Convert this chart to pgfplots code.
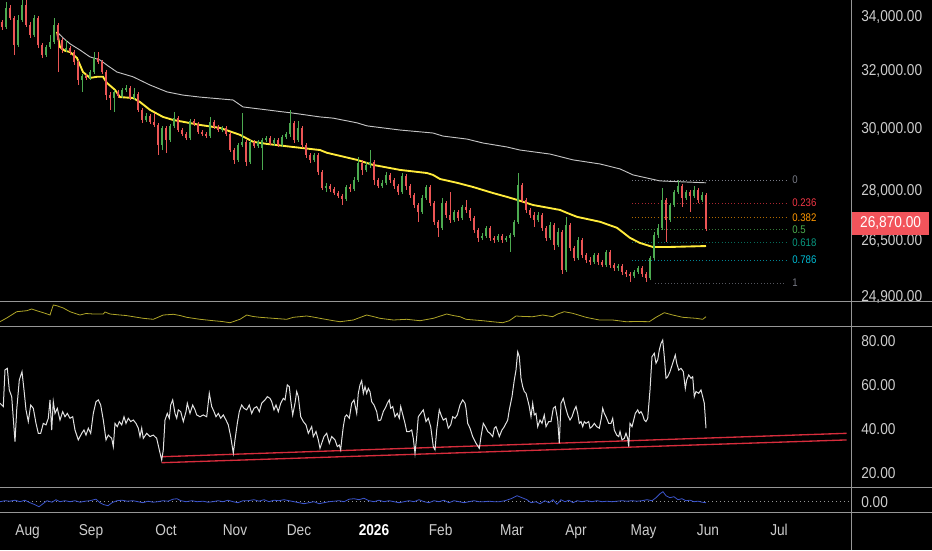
\documentclass[border=0pt]{standalone}
\usepackage{fontspec}
\setmainfont{Liberation Sans}[FakeStretch=0.87]
\usepackage{pgfplots}
\pgfplotsset{compat=1.18}
\usepackage{pgfplotstable}

\definecolor{sep}{RGB}{150,150,150}
\definecolor{txt}{RGB}{205,205,205}
\definecolor{cup}{RGB}{76,170,80}
\definecolor{cdn}{RGB}{235,85,85}
\definecolor{maY}{RGB}{255,235,59}
\definecolor{bandW}{RGB}{195,195,195}
\definecolor{oscY}{RGB}{175,165,40}
\definecolor{rsiW}{RGB}{225,225,225}
\definecolor{trend}{RGB}{215,45,60}
\definecolor{blueL}{RGB}{60,85,205}
\definecolor{tag}{RGB}{242,84,91}
\definecolor{fibG}{RGB}{120,123,134}
\definecolor{fibR}{RGB}{242,54,69}
\definecolor{fibO}{RGB}{255,152,0}
\definecolor{fibGr}{RGB}{76,175,80}
\definecolor{fibT}{RGB}{8,153,129}
\definecolor{fibC}{RGB}{0,188,212}

\newcommand\lbl{\fontsize{11.8}{12}\selectfont}
\newcommand\fib{\fontsize{8.3}{9}\selectfont}

% x o h l c  (rising candles)
\pgfplotstableread{
x o h l c
6 33630 34570 33550 34340
18 32960 34080 32880 33890
22 33890 34650 33810 34460
34 33330 34080 33260 33960
46 32590 32960 32520 32880
50 32880 33330 32810 33070
54 33070 33960 33000 33700
66 32770 33140 32700 32850
82 31700 31910 31280 31840
90 31770 32050 31700 31980
94 31980 32700 31910 32480
114 31070 31350 30590 31280
122 31140 31420 31070 31350
126 31350 31520 31280 31420
134 31070 31420 31000 31210
146 30320 30550 30250 30450
162 29490 30120 29320 30050
170 29650 30180 29590 30120
174 30120 30590 30050 30380
190 29720 30350 29650 30280
210 29780 30420 29720 30250
222 29980 30120 29920 30050
238 29000 29550 28940 29490
242 29490 30550 29420 29590
250 28940 29650 28870 29590
258 29450 29650 29390 29590
262 29390 29720 28680 29650
266 29650 29780 29590 29720
274 29550 29720 29450 29650
282 29490 29820 29420 29750
286 29750 29920 29680 29850
290 29850 30660 29750 30220
298 29650 30280 29590 30050
314 29000 29230 28940 29160
326 28110 28270 27980 28170
346 27770 28200 27710 28140
354 28080 28450 28010 28360
358 28360 29100 28300 28900
366 28680 28940 28610 28840
370 28840 29320 28740 28940
382 28170 28360 28110 28270
386 28270 28610 28200 28520
402 27980 28580 27920 28490
422 27370 27890 27310 27800
426 27800 28200 27740 28140
442 26890 27800 26830 27640
454 27130 27430 27070 27370
462 27190 27580 27130 27520
482 26590 26740 26530 26650
486 26650 26950 26590 26890
498 26530 26710 26470 26650
506 26530 26650 26470 26590
510 26590 26740 26180 26680
514 26680 27130 26620 27070
518 27070 28580 27010 28200
538 27130 27370 27070 27280
550 26590 27070 26530 26980
558 26380 26890 26320 26770
566 25660 27220 25600 26980
578 26000 26620 25940 26530
594 25890 26150 25830 26090
606 25800 26240 25740 26180
618 25710 25830 25630 25770
634 25490 25660 25430 25600
638 25600 25770 25540 25710
650 25430 26060 25370 26000
654 26000 26770 25940 26680
658 26680 27010 26590 26890
662 26890 28110 26830 27740
670 27130 27640 27070 27580
674 27580 28050 27520 27980
678 27980 28360 27920 28170
686 27800 28050 27740 27980
694 27860 28170 27800 28050
702 27740 27980 27670 27890
}\upc

% x o h l c  (falling candles)
\pgfplotstableread{
x o h l c
2 33810 33890 33510 33630
10 34340 34460 33890 33960
14 33960 34040 32590 32960
26 34460 34650 33630 33700
30 33700 33810 33220 33330
38 33960 34040 32850 32960
42 32960 33030 32480 32590
58 33700 33780 31980 33140
62 33140 33220 32660 32770
70 32850 32920 32590 32700
74 32700 32770 32230 32340
78 32340 32410 31520 31700
86 31840 31910 31700 31770
98 32480 32700 32270 32340
102 32340 32410 31910 31980
106 31980 32050 31000 31170
110 31170 31280 30660 31070
118 31280 31350 31070 31140
130 31420 31490 31000 31070
138 31210 31280 30590 30660
142 30660 30720 30220 30320
150 30450 30520 30180 30250
154 30250 30550 30080 30150
158 30150 30220 29160 29490
166 30050 30120 29230 29650
178 30380 30450 29920 29980
182 29980 30050 29780 29850
186 29850 29920 29650 29720
194 30280 30350 30120 30180
198 30180 30250 29850 29920
202 29920 29980 29780 29850
206 29850 29920 29720 29780
214 30250 30320 30020 30080
218 30080 30150 29920 29980
226 30050 30120 29780 29850
230 29850 29920 29260 29320
234 29320 29390 28870 29000
246 29590 29650 28800 28940
254 29590 29650 29390 29450
270 29720 29780 29490 29550
278 29650 29720 29420 29490
294 30220 30280 29550 29650
302 30050 30120 29390 29490
306 29490 29550 29060 29160
310 29160 29230 28900 29000
318 29160 29230 28520 28610
322 28610 28680 28050 28110
330 28170 28230 27980 28080
334 28080 28140 27890 27950
338 27950 28010 27800 27860
342 27860 27920 27580 27770
350 28140 28230 27980 28080
362 28900 29000 28520 28680
374 28940 29000 28200 28360
378 28360 28420 28110 28170
390 28520 28580 28270 28360
394 28360 28420 28080 28170
398 28170 28230 27890 27980
406 28490 28550 28050 28170
410 28170 28230 27800 27890
414 27890 27950 27490 27580
418 27580 27640 27070 27370
430 28140 28200 27550 27640
434 27640 27710 26980 27070
438 27070 27130 26620 26890
446 27640 27710 27190 27280
450 27280 27980 27040 27130
458 27370 27430 27100 27190
466 27520 27740 27340 27430
470 27430 27490 27100 27190
474 27190 27250 26740 26830
478 26830 26890 26470 26590
490 26890 26950 26500 26590
494 26590 26650 26440 26530
502 26650 26710 26440 26530
522 28200 28270 27640 27740
526 27740 27800 27340 27430
530 27430 27490 27190 27280
534 27280 27370 26920 27130
542 27280 27340 26800 26890
546 26890 26950 26500 26590
554 26980 27040 26240 26380
562 26770 26830 25540 25660
570 26980 27040 26210 26290
574 26290 26350 25920 26000
582 26530 26590 26000 26090
586 26090 26150 25860 25940
590 25940 26030 25800 25890
598 26090 26150 25800 25890
602 25890 25940 25740 25800
610 26180 26240 25710 25800
614 25800 25860 25630 25710
622 25770 25830 25520 25600
626 25600 25660 25460 25540
630 25540 25600 25320 25490
642 25710 25770 25460 25540
646 25540 25600 25320 25430
666 27740 27800 26470 27130
682 28170 28230 27520 27800
690 27980 28050 27370 27860
698 28050 28110 27640 27740
706 27890 27950 26800 26860
}\dnc

\pgfplotsset{
  panel/.style={
    anchor=north west, scale only axis, width=638.25pt,
    xmin=0, xmax=851,
    axis line style={draw=none}, major tick length=0pt, tick style={draw=none},
    xtick=\empty, yticklabel pos=right,
    ticklabel style={font=\lbl, text=txt},
    yticklabel style={anchor=west, inner sep=0pt, xshift=7.5pt},
    clip=false,
  },
  wick/.style={forget plot, draw=none, mark=none,
    error bars/.cd, y dir=plus, y explicit, error mark=none,
    error bar style={draw=#1, line width=0.7pt, solid}},
  body/.style={forget plot, draw=none, mark=none,
    error bars/.cd, y dir=plus, y explicit, error mark=none,
    error bar style={draw=#1, line width=1.95pt, solid}},
}

\begin{document}
\begin{tikzpicture}
\path[use as bounding box] (0pt,0pt) rectangle (699pt,-412.5pt);
\fill[black] (0pt,0pt) rectangle (699pt,-412.5pt);

% ---------------- main price panel
\begin{axis}[panel, at={(0pt,0pt)}, height=225.75pt,
  ymode=log, ymin=24790, ymax=34650,
  ytick={24900,26500,28000,30000,32000,34000},
  yticklabels={{24,900.00},{26,500.00},{28,000.00},{30,000.00},{32,000.00},{34,000.00}}]
% fib levels
\addplot[fibG, line width=0.5pt, dash pattern=on 0.8pt off 1.6pt] coordinates {(632,28360) (786,28360)};
\addplot[fibR!70!black, line width=0.5pt, dash pattern=on 0.8pt off 1.6pt] coordinates {(632,27640) (786,27640)};
\addplot[fibO!70!black, line width=0.5pt, dash pattern=on 0.8pt off 1.6pt] coordinates {(632,27190) (786,27190)};
\addplot[fibGr!70!black, line width=0.5pt, dash pattern=on 0.8pt off 1.6pt] coordinates {(632,26830) (786,26830)};
\addplot[fibT!70!black, line width=0.5pt, dash pattern=on 0.8pt off 1.6pt] coordinates {(632,26460) (786,26460)};
\addplot[fibC!70!black, line width=0.5pt, dash pattern=on 0.8pt off 1.6pt] coordinates {(632,25940) (786,25940)};
\addplot[fibG!70!black, line width=0.5pt, dash pattern=on 0.8pt off 1.6pt] coordinates {(655,25290) (786,25290)};
% upper band (white)
\addplot[bandW, line width=0.7pt] coordinates {
(58,33400) (63,33220) (70,33000) (80,32770) (90,32520) (100,32410) (108,32200)
(117,31980) (133,31810) (150,31520) (167,31280) (183,31170) (200,31100) (233,31000)
(243,30760) (267,30660) (293,30550) (320,30420) (333,30380) (357,30220) (367,30120)
(400,29980) (433,29880) (443,29780) (467,29680) (483,29550) (507,29420) (520,29320)
(550,29190) (573,29000) (600,28870) (620,28710) (633,28520) (660,28330) (706,28270)};
% moving average (yellow)
\addplot[maY, line width=1.4pt] coordinates {
(57,33440) (60,32880) (65,32740) (70,32700) (77,32480) (83,31980) (90,31770)
(97,31810) (103,31810) (107,31590) (115,31350) (120,31100) (133,31070) (140,30930)
(150,30660) (163,30420) (173,30320) (200,30150) (220,30050) (240,29820) (253,29590)
(267,29520) (293,29420) (320,29320) (327,29230) (357,29000) (373,28840) (400,28680)
(427,28580) (433,28520) (440,28390) (457,28270) (473,28140) (493,27950) (507,27830)
(517,27740) (533,27580) (560,27430) (567,27340) (577,27220) (600,27070) (617,26890)
(630,26590) (640,26440) (653,26320) (667,26320) (706,26350)};
% candles
\addplot[wick=cup] table[x=x, y=l, y error expr=\thisrow{h}-\thisrow{l}] {\upc};
\addplot[wick=cdn] table[x=x, y=l, y error expr=\thisrow{h}-\thisrow{l}] {\dnc};
\addplot[body=cup] table[x=x, y=o, y error expr=\thisrow{c}-\thisrow{o}] {\upc};
\addplot[body=cdn] table[x=x, y=c, y error expr=\thisrow{o}-\thisrow{c}] {\dnc};
% fib labels
\node[anchor=west, inner sep=0pt, font=\fib, text=fibG] at (axis cs:792,28360) {0};
\node[anchor=west, inner sep=0pt, font=\fib, text=fibR] at (axis cs:792,27640) {0.236};
\node[anchor=west, inner sep=0pt, font=\fib, text=fibO] at (axis cs:792,27190) {0.382};
\node[anchor=west, inner sep=0pt, font=\fib, text=fibGr] at (axis cs:792,26830) {0.5};
\node[anchor=west, inner sep=0pt, font=\fib, text=fibT] at (axis cs:792,26460) {0.618};
\node[anchor=west, inner sep=0pt, font=\fib, text=fibC] at (axis cs:792,25940) {0.786};
\node[anchor=west, inner sep=0pt, font=\fib, text=fibG] at (axis cs:792,25290) {1};
\end{axis}

% ---------------- small yellow oscillator panel
\begin{axis}[panel, at={(0pt,-226.5pt)}, height=18pt, ymin=0, ymax=24, ytick=\empty]
\addplot[oscY, line width=0.6pt] coordinates {
(0,4.3) (6.7,8) (16.7,14.3) (26.7,15.3) (31.7,17) (36.7,15.3) (43.3,13.3) (50,11)
(53.3,21) (56.7,20.3) (63.3,18) (70,14.3) (80,11) (86,12.5) (93.3,12) (103.3,12) (105,14)
(110,12) (120,11) (126,10.5) (133.3,9.3) (143.3,7.7) (153.3,6.7) (163.3,11) (173.3,11.7)
(180,10.5) (186.7,8.7) (200,6.7) (213.3,5.3) (222,4.5) (230,3.3) (240,6.7) (246.7,11)
(253,9.5) (260,8.7) (273.3,7.7) (286.7,6.7) (293.3,8.7) (306.7,10) (313,9) (320,7.7)
(333.3,5.3) (340,4.3) (353.3,6) (366.7,11) (373,9.5) (380,7.7) (393.3,6) (406.7,6.7)
(420,5.3) (433.3,7.7) (446.7,12) (453,10.5) (460,9.3) (466,6.7) (482.7,5.3) (495,4)
(502.7,3.3) (509.3,5.3) (516,10) (524,9.5) (532.7,9.3) (542.7,11) (552.7,9.3) (557.7,12)
(564.3,14.3) (572.7,12.7) (580,10.5) (586,8.7) (599.3,6) (612.7,6) (626,4.3) (638,4.5)
(649.3,4.3) (656,8.7) (664.3,13.3) (672.7,11) (682.7,8.7) (696,7.7) (702.7,6.7) (706,9.3)};
\end{axis}

% ---------------- RSI panel
\begin{axis}[panel, at={(0pt,-245.25pt)}, height=120pt, ymin=13.8, ymax=86.2,
  ytick={20,40,60,80}, yticklabels={20.00,40.00,60.00,80.00}]
\addplot[trend, line width=1pt] coordinates {(161.7,27.5) (846.7,38.1)};
\addplot[trend, line width=1pt] coordinates {(161.7,24.8) (846.7,35.1)};
\addplot[rsiW, line width=0.75pt] coordinates {
(0,51.7) (3.3,50.2) (5,66.8) (7.3,67.5) (9.3,57.7) (11.7,54.7) (15,34.3) (16.7,48.7)
(19.3,62.2) (22,66.0) (24,57.7) (26,48.7) (28.3,43.4) (30.7,50.9) (33.3,49.4) (36,42.6)
(38.3,38.1) (40.7,38.1) (43.3,42.6) (46,41.9) (48.3,44.9) (50,53.2) (51.7,39.6) (53.3,52.4)
(55,47.1) (57.3,49.4) (60,44.1) (62.7,47.9) (65,45.6) (67.3,47.1) (70,44.9) (72.7,45.6)
(75,39.6) (78.3,35.1) (81.7,38.1) (84,39.6) (86,37.3) (88.3,40.4) (90.7,38.1) (93.3,47.1)
(96,52.4) (98.3,53.2) (100.7,50.9) (103.3,44.1) (106,35.1) (108.3,37.3) (111.7,35.8)
(113.3,32.1) (115,42.6) (117.3,41.1) (119.3,43.4) (121.7,41.9) (124,45.6) (126,42.6)
(128.3,44.9) (130.7,43.4) (133.3,44.1) (136,42.6) (138.3,40.4) (140,36.6) (141.7,40.4)
(143.3,35.8) (146.7,38.1) (150,36.6) (153.3,37.3) (156.7,35.8) (159.3,30.6) (161.7,26.0)
(163.3,30.6) (165,44.1) (167.3,47.1) (169.3,44.9) (170.7,50.9) (172.7,53.2) (175,47.1)
(176.7,44.9) (178.3,48.7) (180.7,47.9) (183.3,43.4) (186,47.9) (187.3,51.7) (190,47.1)
(192.7,50.9) (195,48.7) (196.7,46.4) (200,45.6) (203.3,46.4) (206.7,45.6) (209.3,56.2)
(211.7,50.2) (214,47.9) (216,45.6) (218.3,47.1) (220.7,44.9) (223.3,46.4) (226,44.1)
(228.3,41.9) (230.7,36.6) (233.3,29.1) (235,35.1) (237.3,42.6) (239.3,47.9) (241.7,50.9)
(244,49.4) (246.7,48.7) (249.3,50.9) (251.7,47.1) (254,49.4) (256.7,50.2) (259.3,47.9)
(261.7,51.7) (265,53.2) (267.3,54.7) (270,53.9) (271.7,52.4) (274,48.7) (276,50.9)
(278.3,47.9) (280.7,51.7) (283.3,53.9) (285,53.2) (287.3,60.0) (289.3,59.2) (290.7,53.2)
(292.7,46.4) (295,51.7) (296.7,57.0) (298.3,54.7) (300.7,45.6) (303.3,43.4) (306,41.9)
(308.3,38.1) (310,39.6) (311.7,41.1) (313.3,36.6) (316,38.9) (318.3,35.1) (320,31.3)
(321.7,33.6) (324,36.6) (326.7,38.1) (329.3,33.6) (331.7,36.6) (335,35.1) (337.3,32.1)
(339.3,32.8) (340.7,30.6) (341.7,35.1) (343.3,41.1) (345,45.6) (346.7,46.4) (349.3,44.9)
(351.7,51.7) (354,53.2) (356.7,47.1) (358.3,56.2) (360,60.0) (361.7,61.9) (363.3,56.2)
(365,59.2) (366.7,56.2) (368.3,58.4) (370,56.9) (371.7,52.4) (374,50.9) (376.7,47.9)
(378.3,43.8) (380.7,44.1) (383.3,47.9) (386,50.2) (387.3,51.7) (389.3,53.2) (390.7,49.4)
(392.7,50.2) (395,45.6) (397.3,47.1) (399.3,44.9) (400.7,50.2) (403.3,45.6) (405,42.6)
(406.7,38.9) (409.3,38.9) (411.7,39.6) (413.3,35.8) (415,29.0) (416.7,36.6) (418.3,45.6)
(420.7,47.1) (423.3,48.7) (426,43.4) (428.3,44.9) (430.7,41.1) (433.3,32.1) (435,30.6)
(436.7,39.6) (439.3,48.7) (441.7,45.6) (443.3,44.1) (446,44.9) (448.3,40.4) (450.7,41.9)
(452.7,45.6) (455,44.9) (457.3,46.4) (460,50.9) (462.7,53.2) (465,51.7) (466,49.4)
(467.7,42.6) (470,40.4) (472.7,36.6) (476,33.6) (479.3,31.3) (481,36.6) (483.3,42.6)
(485.3,41.1) (487.7,38.9) (490,38.1) (492.7,36.6) (494.3,40.4) (496,41.1) (497.7,38.9)
(499.3,36.6) (502,39.6) (504.3,41.1) (506,42.6) (507.7,44.1) (509.3,48.7) (512,54.7)
(514.3,62.2) (516,66.7) (517.7,75.0) (519.3,72.8) (521,63.0) (522.7,59.2) (524.3,57.0)
(526,56.2) (527.7,53.2) (529.3,50.2) (531,45.6) (532.7,51.7) (534.3,46.4) (536,47.1)
(537.7,41.1) (540,44.1) (542,42.6) (544.3,46.4) (546,41.1) (548.7,43.4) (551,43.4)
(553.3,49.4) (555.3,50.2) (557.7,44.1) (559.3,33.6) (561,51.7) (563.3,53.9) (565.3,50.2)
(567.7,46.4) (570,44.1) (572,45.6) (574.3,48.7) (576,50.2) (577.7,47.1) (579.3,42.6)
(581,43.4) (582.7,41.1) (584.3,43.4) (586,42.6) (588.7,43.4) (590,40.4) (592,41.1)
(594.3,42.6) (596.7,41.1) (599.3,40.4) (601.3,44.9) (602.7,49.4) (604.3,47.1) (606,45.6)
(608.7,42.6) (611,42.6) (612.7,44.9) (614.3,39.6) (616.7,37.3) (618.7,36.6) (620,38.9)
(622,35.1) (624.3,35.8) (626,38.1) (627.7,35.8) (628.7,32.1) (630,42.6) (632,41.1)
(633.3,43.4) (635.3,47.1) (637.7,48.7) (639.3,47.1) (641,47.9) (642.7,46.4) (644.3,44.1)
(646,43.4) (647.7,44.9) (650,57.7) (652,72.8) (654.3,74.3) (656,69.8) (657.7,71.3)
(659.3,75.8) (661,78.8) (662.7,80.3) (664.3,72.8) (666,63.0) (667.7,63.7) (670,66.0)
(672.7,69.8) (675.3,73.5) (676.7,69.8) (678.7,66.7) (681,67.5) (683.3,66.0) (685.3,58.4)
(686.7,62.2) (688.7,64.5) (691,63.0) (692.7,63.7) (694.3,54.7) (696,57.0) (698.7,56.2)
(701,57.7) (702.7,54.7) (704.3,51.7) (706,40.4)};
\end{axis}

% ---------------- bottom blue panel with date axis
\begin{axis}[panel, at={(0pt,-366pt)}, height=18pt, ymin=-10.3, ymax=13.7,
  ytick={0}, yticklabels={0.00},
  xtick={27.6,91,166,235,299,374,440.6,512,576,643.6,708,779},
  xticklabels={Aug,Sep,Oct,Nov,Dec,\textbf{\textcolor{white}{2026}},Feb,Mar,Apr,May,Jun,Jul},
  xticklabel style={anchor=north, inner sep=0pt, yshift=-9pt}]
\addplot[sep, line width=0.6pt, dash pattern=on 1pt off 2pt] coordinates {(0,0) (851,0)};
\addplot[blueL, line width=0.6pt] coordinates {
(0,0) (5,1) (10,0.5) (15,1.5) (20,0) (25,1.5) (30,-1) (35,-3) (39,-5) (43,-2) (47,1)
(52,-0.5) (56,2) (60,0) (65,1) (70,0) (75,1) (80,-0.5) (85,0.5) (90,1) (96,2.5) (100,-1)
(104,-3) (108,-4) (112,-1) (117,1) (122,1.5) (127,0.5) (133,1) (138,0) (143,-1) (148,0.5)
(153,-0.5) (158,0) (163,1) (168,0.5) (173,2.5) (177,3) (181,1) (186,0) (192,1) (197,0)
(203,0.5) (208,-0.5) (213,0) (218,1) (223,0) (228,1.5) (233,0) (238,-1) (243,1) (248,1)
(254,2) (259,0.5) (264,2) (269,0) (274,1.5) (279,1) (284,2) (289,1) (294,0) (299,-1)
(304,-2) (309,-1) (314,0) (319,-2) (324,-1) (329,0) (334,0.5) (339,1) (344,0) (349,2.5)
(354,3) (359,2) (364,3.5) (369,1) (374,0) (379,1.5) (384,0) (389,1) (394,0) (399,-1)
(404,0) (409,1) (414,0) (419,2) (424,0) (429,-1) (434,1) (439,0) (444,1.5) (449,-1)
(454,1) (459,0) (464,-1) (469,0) (474,1) (479,0) (484,0) (489,0.5) (494,0) (499,0)
(505,1) (511,3) (517,6) (522,4) (527,2) (531,-1) (536,0) (540,-2) (545,1) (549,-1)
(553,2) (557,-2.5) (561,2) (565,0) (569,1.5) (573,-1) (577,1) (582,0) (587,1) (592,0)
(597,1) (602,0) (607,0.5) (612,0) (617,0.5) (622,1) (627,0.5) (632,1) (637,0.5) (642,1)
(647,2) (652,1) (656,4) (660,8) (663,10) (666,6) (670,4) (674,5) (678,2) (682,3) (686,1)
(690,1.5) (694,0) (698,0.5) (702,-0.5) (706,-1)};
\end{axis}

% pane separators
\draw[sep, line width=0.7pt] (0pt,-226.1pt) -- (699pt,-226.1pt);
\draw[sep, line width=0.7pt] (0pt,-244.9pt) -- (699pt,-244.9pt);
\draw[sep, line width=0.7pt] (0pt,-365.6pt) -- (699pt,-365.6pt);
\draw[sep, line width=0.7pt] (0pt,-384.4pt) -- (699pt,-384.4pt);
\draw[sep, line width=0.7pt] (638.6pt,0pt) -- (638.6pt,-412.5pt);

% last price tag
\node[fill=tag, text=white, anchor=west, inner sep=0pt, minimum width=57.75pt,
      minimum height=17.25pt, font=\lbl] at (638.9pt,-167.6pt) {26,870.00};
\end{tikzpicture}
\end{document}
